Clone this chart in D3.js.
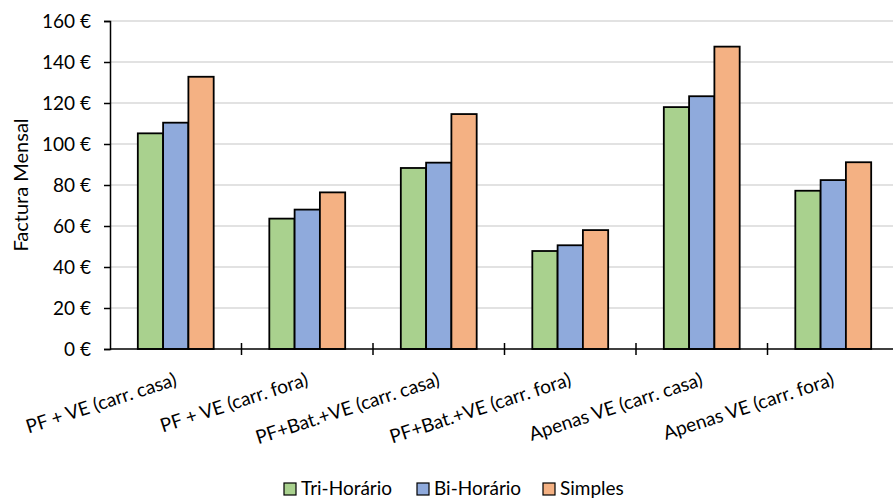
<!DOCTYPE html>
<html>
<head>
<meta charset="utf-8">
<script src="https://cdn.jsdelivr.net/npm/d3@7"></script>
<style>
  html, body { margin: 0; padding: 0; background: #fff; }
  svg { display: block; }
  text { font-family: Lato, "Open Sans", sans-serif; fill: #000; }
</style>
</head>
<body>
<svg id="chart" width="893" height="499"></svg>
<script>
// Monthly bill per scenario and tariff
const categories = [
  "PF + VE (carr. casa)",
  "PF + VE (carr. fora)",
  "PF+Bat.+VE (carr. casa)",
  "PF+Bat.+VE (carr. fora)",
  "Apenas VE (carr. casa)",
  "Apenas VE (carr. fora)"
];
const seriesNames = ["Tri-Horário", "Bi-Horário", "Simples"];
const triHorario = [105.2, 63.6, 88.3, 47.8, 118.0, 77.2];
const biHorario  = [110.4, 68.0, 90.9, 50.6, 123.3, 82.4];
const simples    = [132.8, 76.4, 114.6, 58.0, 147.5, 91.1];
const yTicks = [0, 20, 40, 60, 80, 100, 120, 140, 160];
const colors = ["#A9D18E", "#8FAADC", "#F4B183"];

const seriesValues = [triHorario, biHorario, simples];

const svg = d3.select("#chart");
const plotLeft = 110, plotRight = 899, plotTop = 21, plotBottom = 349;

const x = d3.scaleBand().domain(categories).range([plotLeft, plotRight]).paddingInner(0).paddingOuter(0);
const inner = d3.scaleBand().domain(seriesNames).range([0, x.bandwidth()])
  .paddingInner(0).paddingOuter(1.1);
const y = d3.scaleLinear().domain([0, 160]).range([plotBottom, plotTop]);

// horizontal gridlines
svg.append("g")
  .selectAll("line")
  .data(yTicks.filter(d => d > 0))
  .join("line")
  .attr("x1", plotLeft).attr("x2", plotRight)
  .attr("y1", d => y(d)).attr("y2", d => y(d))
  .attr("stroke", "#d9d9d9").attr("stroke-width", 1.5);

// bars
const rows = categories.map((c, i) => seriesNames.map((s, j) => ({ cat: c, series: s, value: seriesValues[j][i], idx: j })));
svg.append("g")
  .selectAll("g")
  .data(rows)
  .join("g")
  .attr("transform", d => `translate(${x(d[0].cat)},0)`)
  .selectAll("rect")
  .data(d => d)
  .join("rect")
  .attr("x", d => inner(d.series))
  .attr("y", d => y(d.value))
  .attr("width", inner.bandwidth())
  .attr("height", d => y(0) - y(d.value))
  .attr("fill", d => colors[d.idx])
  .attr("stroke", "#000")
  .attr("stroke-width", 1.8);

// y axis
const yAxis = svg.append("g")
  .attr("transform", `translate(${plotLeft},0)`)
  .call(d3.axisLeft(y).tickValues(yTicks).tickSize(6).tickPadding(13).tickFormat(d => d + " €"));
yAxis.select(".domain").attr("stroke", "#000").attr("stroke-width", 1.5);
yAxis.selectAll(".tick line").attr("stroke", "#000").attr("stroke-width", 1.5);
yAxis.selectAll(".tick text").attr("font-size", 19).attr("font-family", "Lato, 'Open Sans', sans-serif");

// x axis line and category separators
svg.append("line")
  .attr("x1", plotLeft).attr("x2", plotRight).attr("y1", plotBottom).attr("y2", plotBottom)
  .attr("stroke", "#000").attr("stroke-width", 1.5);
svg.append("g")
  .selectAll("line")
  .data(categories.slice(1))
  .join("line")
  .attr("x1", d => x(d)).attr("x2", d => x(d))
  .attr("y1", plotBottom - 6).attr("y2", plotBottom + 6)
  .attr("stroke", "#000").attr("stroke-width", 1.5);

// rotated category labels
svg.append("g")
  .selectAll("text")
  .data(categories)
  .join("text")
  .attr("transform", d => `translate(${x(d) + x.bandwidth() / 2 + 2},385) rotate(-18)`)
  .attr("text-anchor", "end")
  .attr("font-size", 19)
  .text(d => d);

// y axis title
svg.append("text")
  .attr("transform", `translate(28,185) rotate(-90)`)
  .attr("text-anchor", "middle")
  .attr("font-size", 20)
  .text("Factura Mensal");

// legend
const legendX = [284, 417, 543];
const legend = svg.append("g")
  .selectAll("g")
  .data(seriesNames)
  .join("g")
  .attr("transform", (d, i) => `translate(${legendX[i]},483)`);
legend.append("rect")
  .attr("width", 12).attr("height", 12)
  .attr("fill", (d, i) => colors[i])
  .attr("stroke", "#000").attr("stroke-width", 1.2);
legend.append("text")
  .attr("x", 17).attr("y", 12)
  .attr("font-size", 19)
  .text(d => d);
</script>
</body>
</html>
